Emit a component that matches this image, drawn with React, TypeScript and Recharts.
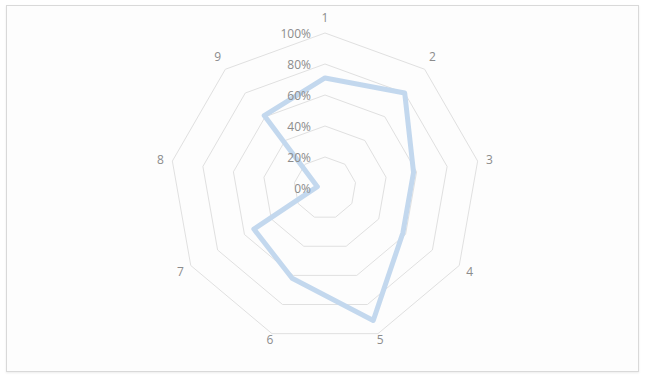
import React from "react";
import {
  PolarAngleAxis,
  PolarGrid,
  PolarRadiusAxis,
  Radar,
  RadarChart,
} from "recharts";

const categories = ["1", "2", "3", "4", "5", "6", "7", "8", "9"];
const values = [71, 80, 58, 58, 91, 62, 53, 5, 61];
const radiusTicks = [0, 20, 40, 60, 80, 100];

const CX = 325;
const CY = 188;
const textColor = "#8c8c8c";
const fontFamily = "'Open Sans', sans-serif";

const data = categories.map((name, i) => ({ name, value: values[i] }));

// push the category label a little further out from the centre
const AngleTick = (props: any) => {
  const { x, y, payload } = props;
  const dx = x - CX;
  const dy = y - CY;
  const len = Math.sqrt(dx * dx + dy * dy) || 1;
  const extra = dy > 100 ? -2 : 4;
  const tx = x + (dx / len) * extra;
  const ty = y + (dy / len) * extra - (dy < -100 ? 4 : 0);
  return (
    <text
      x={tx}
      y={ty}
      textAnchor="middle"
      dominantBaseline="central"
      fill={textColor}
      fontSize={12}
      fontFamily={fontFamily}
    >
      {payload.value}
    </text>
  );
};

const RadiusTick = (props: any) => {
  const { x, y, payload } = props;
  return (
    <text
      x={x - 14}
      y={y}
      textAnchor="end"
      dominantBaseline="central"
      fill={textColor}
      fontSize={12}
      fontFamily={fontFamily}
    >
      {payload.value + "%"}
    </text>
  );
};

const App = () => {
  return (
    <div
      style={{
        position: "absolute",
        left: 0,
        top: 0,
        width: 645,
        height: 380,
        background: "#ffffff",
      }}
    >
      <div
        style={{
          position: "absolute",
          left: 6,
          top: 5,
          width: 631,
          height: 365,
          border: "1px solid #d9d9d9",
          background: "#fdfdfd",
          boxShadow: "0 1px 2px rgba(0,0,0,0.08)",
        }}
      />
      <div style={{ position: "absolute", left: 0, top: 0 }}>
        <RadarChart
          width={645}
          height={380}
          data={data}
          cx={CX}
          cy={CY}
          outerRadius={155}
          margin={{ top: 0, right: 0, bottom: 0, left: 0 }}
        >
          <PolarGrid
            gridType="polygon"
            radialLines={false}
            stroke="#e0e0e0"
            strokeWidth={1}
          />
          <PolarAngleAxis
            dataKey="name"
            tick={<AngleTick />}
            tickLine={false}
            axisLine={false}
          />
          <PolarRadiusAxis
            angle={90}
            domain={[0, 100]}
            ticks={radiusTicks as any}
            tickCount={6}
            tick={<RadiusTick />}
            axisLine={false}
            tickLine={false}
          />
          <Radar
            dataKey="value"
            stroke="#c3d8ee"
            strokeWidth={5}
            strokeLinejoin="round"
            fill="none"
            fillOpacity={0}
            dot={false}
            isAnimationActive={false}
          />
        </RadarChart>
      </div>
    </div>
  );
};

export default App;
